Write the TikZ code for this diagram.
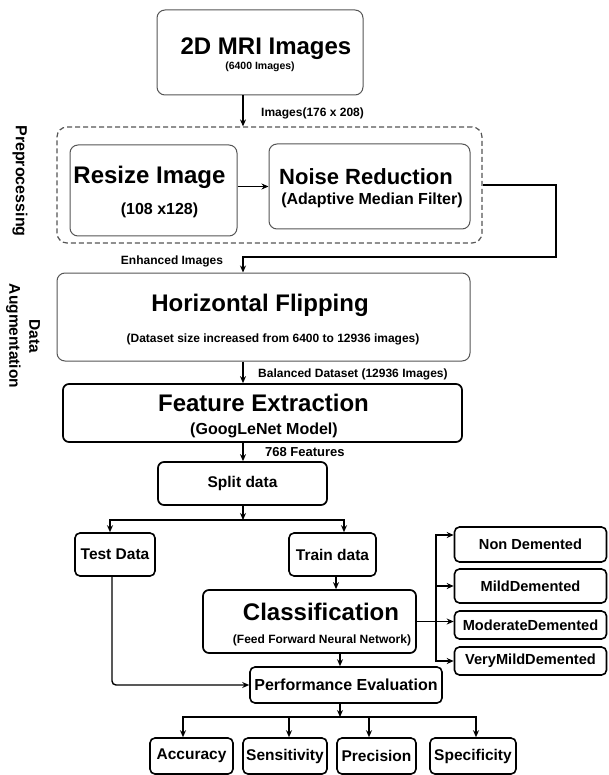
\documentclass[tikz,border=0pt]{standalone}
\usepackage{fontspec}
\setmainfont{Liberation Sans}
\usetikzlibrary{arrows.meta,calc}
\newcommand\fsz[2]{\fontsize{#1}{#2}\selectfont}
\definecolor{edgegray}{HTML}{555555}
\begin{document}
\begin{tikzpicture}[x=1pt,y=-1pt,
  boxg/.style={draw=edgegray, line width=1pt, rounded corners=8pt, inner sep=0pt},
  boxk/.style={draw=black, line width=1.7pt, rounded corners=6pt, inner sep=0pt},
  boxs/.style={draw=black, line width=1.6pt, rounded corners=5pt, inner sep=0pt},
  grp/.style={draw=edgegray, line width=1.2pt, dash pattern=on 5pt off 3pt, rounded corners=10pt},
  arr/.style={-{Stealth[length=7pt,width=6pt]}, line width=1.4pt},
  txt/.style={inner sep=0pt, anchor=base},
  tA/.style={font=\bfseries\fsz{24}{28}},
  tB/.style={font=\bfseries\fsz{22}{26}},
  tC/.style={font=\bfseries\fsz{16}{19}},
  tD/.style={font=\bfseries\fsz{15.5}{20}},
  tE/.style={font=\bfseries\fsz{12}{14}},
  tF/.style={font=\bfseries\fsz{10.5}{12}},
  tG/.style={font=\bfseries\fsz{14.6}{17}},
  tH/.style={font=\bfseries\fsz{13}{15}},
]
\useasboundingbox (0,0) rectangle (608,775);

% ---- boxes ----
\node[boxg, minimum width=206, minimum height=85] (mri) at (260,52.5) {};
\node[txt, tA] (mriT) at (266,55) {2D MRI Images};
\node[txt, tF] (mriS) at (260,70) {(6400 Images)};

\node[grp, minimum width=425, minimum height=116] (pre) at (269.5,185) {};
\node[boxg, minimum width=167, minimum height=91] (resize) at (153.5,190.5) {};
\node[txt, tA] (resizeT) at (149.5,184) {Resize Image};
\node[txt, tC] (resizeS) at (159.5,215) {(108 x128)};
\node[boxg, minimum width=201, minimum height=85] (noise) at (369.5,186.5) {};
\node[txt, tB] (noiseT) at (366,185) {Noise Reduction};
\node[txt, tC] (noiseS) at (372,205) {(Adaptive Median Filter)};

\node[boxg, minimum width=413, minimum height=88] (flip) at (263.5,317) {};
\node[txt, tA] (flipT) at (260,311) {Horizontal Flipping};
\node[txt, tE] (flipS) at (273,342) {(Dataset size increased from 6400 to 12936 images)};

\node[boxk, minimum width=399, minimum height=58] (fe) at (262.5,413) {};
\node[txt, tA] (feT) at (263.5,411.5) {Feature Extraction};
\node[txt, tC] (feS) at (264,434) {(GoogLeNet Model)};

\node[boxk, minimum width=169, minimum height=43, tD] (split) at (242.5,483.5) {Split data};
\node[boxs, minimum width=80, minimum height=43, tD] (test) at (115,554.5) {Test Data};
\node[boxs, minimum width=87, minimum height=43, tD] (train) at (332.5,554.5) {Train data};

\node[boxk, minimum width=213, minimum height=63] (cls) at (309.5,621.5) {};
\node[txt, tA] (clsT) at (321,620.5) {Classification};
\node[txt, tE] (clsS) at (322,643) {(Feed Forward Neural Network)};

\node[boxs, minimum width=192, minimum height=36, tC] (perf) at (346,685) {Performance Evaluation};

\node[boxs, minimum width=83, minimum height=36, tD] (acc) at (191.5,756) {Accuracy};
\node[boxs, minimum width=84, minimum height=36, tD] (sens) at (285,756) {Sensitivity};
\node[boxs, minimum width=79, minimum height=36, tD] (prec) at (376.5,756) {Precision};
\node[boxs, minimum width=86, minimum height=36, tD] (spec) at (473,756) {Specificity};

\node[boxs, minimum width=152, minimum height=35, tG] (non) at (530.5,544.5) {Non Demented};
\node[boxs, minimum width=152, minimum height=34, tG] (mild) at (530.5,586) {MildDemented};
\node[boxs, minimum width=152, minimum height=28, tG] (mod) at (530.5,625) {ModerateDemented};
\node[boxs, minimum width=152, minimum height=28, tG] (vmild) at (530.5,661) {VeryMildDemented};

% ---- side labels ----
\node[tC, rotate=-90, inner sep=0pt] (lpre) at (20,181) {Preprocessing};
\node[tD, rotate=-90, align=center, inner sep=0pt] (laug) at (23,336) {Data\\Augmentation};

% ---- connector labels ----
\node[txt, tE, anchor=base west] (lb1) at (261,116.5) {Images(176 x 208)};
\node[txt, tE] (lb2) at (172,265) {Enhanced Images};
\node[txt, tE, anchor=base west] (lb3) at (258,377.5) {Balanced Dataset (12936 Images)};
\node[txt, tH, anchor=base west] (lb4) at (265,456.5) {768 Features};

% ---- coordinates ----
\coordinate (xm) at (243,0);
\coordinate (rt) at (556,257);
\coordinate (sj) at (243,520);
\coordinate (xt) at (110,0);
\coordinate (xr) at (344,0);
\coordinate (xc) at (336,0);
\coordinate (xp) at (340,0);
\coordinate (xtl) at (112,0);
\coordinate (pj) at (340,717);
\coordinate (xa) at (183,0);
\coordinate (xs) at (289,0);
\coordinate (xq) at (369,0);
\coordinate (xf) at (476,0);
\coordinate (vx) at (436,0);
\coordinate (nonA) at ($(non.west)+(0,-9.5)$);

% ---- connectors ----
\draw[arr] (mri.south -| xm) -- (pre.north -| xm);
\draw[arr] (resize.east |- noise.west) -- (noise.west);
\draw[arr] (pre.east) -| (rt) -| (flip.north -| xm);
\draw[arr] (flip.south -| xm) -- (fe.north -| xm);
\draw[arr] (fe.south -| xm) -- (split.north -| xm);
\draw[arr] (split.south -| xm) -- (sj);
\draw[arr] (sj) -| (test.north -| xt);
\draw[arr] (sj) -| (train.north -| xr);
\draw[arr] (train.south -| xc) -- (cls.north -| xc);
\draw[arr] (cls.south -| xp) -- (perf.north -| xp);
\draw[arr, rounded corners=4pt] (test.south -| xtl) |- (perf.west);
\draw[arr] (perf.south -| pj) -- (pj);
\draw[arr] (pj) -| (acc.north -| xa);
\draw[arr] (pj) -| (sens.north -| xs);
\draw[arr] (pj) -| (prec.north -| xq);
\draw[arr] (pj) -| (spec.north -| xf);

\draw[arr] (cls.east) -- (mod.west |- cls.east);
\draw[arr] (vx |- vmild.west) |- (nonA);
\draw[arr] (vx |- nonA) |- (vmild.west);
\draw[arr] (vx |- mild.west) -- (mild.west);
\end{tikzpicture}
\end{document}
